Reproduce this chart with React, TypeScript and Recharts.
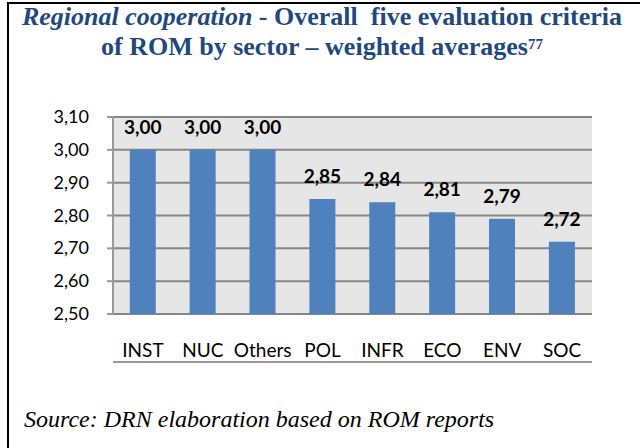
import React from 'react';
import { BarChart, Bar, XAxis, YAxis, CartesianGrid, LabelList } from 'recharts';

const sectors = ['INST', 'NUC', 'Others', 'POL', 'INFR', 'ECO', 'ENV', 'SOC'];
const scores = [3.0, 3.0, 3.0, 2.85, 2.84, 2.81, 2.79, 2.72];
const yTicks = [2.5, 2.6, 2.7, 2.8, 2.9, 3.0, 3.1];
const boundaryTicks = [0, 1, 2, 3, 4, 5, 6, 7, 8];

const data = sectors.map((name, i) => ({ name, score: scores[i] }));

const fmt = (v: number) => v.toFixed(2).replace('.', ',');

const YTick = (props: any) => {
    const { x, y, payload } = props;
    return (
        <text x={x - 16} y={y} dy={6} textAnchor="end" fill="#000" fontSize={18} fontFamily="Lato, sans-serif">
            {fmt(payload.value)}
        </text>
    );
};

const App: React.FC = () => {
    return (
        <div style={{ position: 'absolute', left: 0, top: 0, width: 640, height: 448, background: '#fff', overflow: 'hidden' }}>
            <div style={{ position: 'absolute', left: 7, top: 2, width: 660, height: 480, borderLeft: '2px solid #000', borderTop: '2px solid #000' }} />
            <div
                style={{
                    position: 'absolute', left: 0, top: 2, width: 644, textAlign: 'center',
                    fontFamily: '"Liberation Serif", serif', fontWeight: 'bold', fontSize: 26,
                    lineHeight: '30px', color: '#1f497d'
                }}
            >
                <span style={{ fontStyle: 'italic' }}>Regional cooperation</span> - Overall&nbsp; five evaluation criteria
                <br />
                of ROM by sector – weighted averages<span style={{ fontSize: 15, verticalAlign: '6px', lineHeight: 0 }}>77</span>
            </div>
            <div style={{ position: 'absolute', left: 0, top: 0 }}>
                <BarChart
                    width={640}
                    height={448}
                    data={data}
                    margin={{ top: 117, right: 48, bottom: 80, left: 0 }}
                    barCategoryGap="28%"
                >
                    <CartesianGrid vertical={false} stroke="#868686" strokeWidth={2} fill="#e6e6e6" />
                    <XAxis
                        xAxisId="edges"
                        type="number"
                        domain={[0, 8]}
                        ticks={boundaryTicks}
                        tick={false}
                        height={6}
                        axisLine={{ stroke: '#9a9a9a', strokeWidth: 2 }}
                        tickLine={{ stroke: '#9a9a9a', strokeWidth: 2 }}
                        tickSize={6}
                    />
                    <XAxis
                        xAxisId="cat"
                        dataKey="name"
                        axisLine={false}
                        tickLine={false}
                        tickMargin={24}
                        height={48}
                        tick={{ fill: '#000', fontSize: 19, fontFamily: 'Lato, sans-serif' }}
                        interval={0}
                    />
                    <YAxis
                        width={113}
                        domain={[2.5, 3.1]}
                        ticks={yTicks}
                        allowDataOverflow
                        axisLine={{ stroke: '#9a9a9a', strokeWidth: 2 }}
                        tickLine={{ stroke: '#9a9a9a', strokeWidth: 2 }}
                        tickSize={6}
                        tick={<YTick />}
                    />
                    <Bar dataKey="score" xAxisId="cat" fill="#4f81bd" isAnimationActive={false}>
                        <LabelList
                            dataKey="score"
                            position="top"
                            offset={16}
                            formatter={(v: any) => fmt(Number(v))}
                            style={{ fill: '#000', fontWeight: 'bold', fontSize: 19, fontFamily: 'Lato, sans-serif' }}
                        />
                    </Bar>
                </BarChart>
            </div>
            <div
                style={{
                    position: 'absolute', left: 24, top: 406, fontFamily: '"Liberation Serif", serif',
                    fontStyle: 'italic', fontSize: 24, color: '#000'
                }}
            >
                Source: DRN elaboration based on ROM reports
            </div>
        </div>
    );
};

export default App;
